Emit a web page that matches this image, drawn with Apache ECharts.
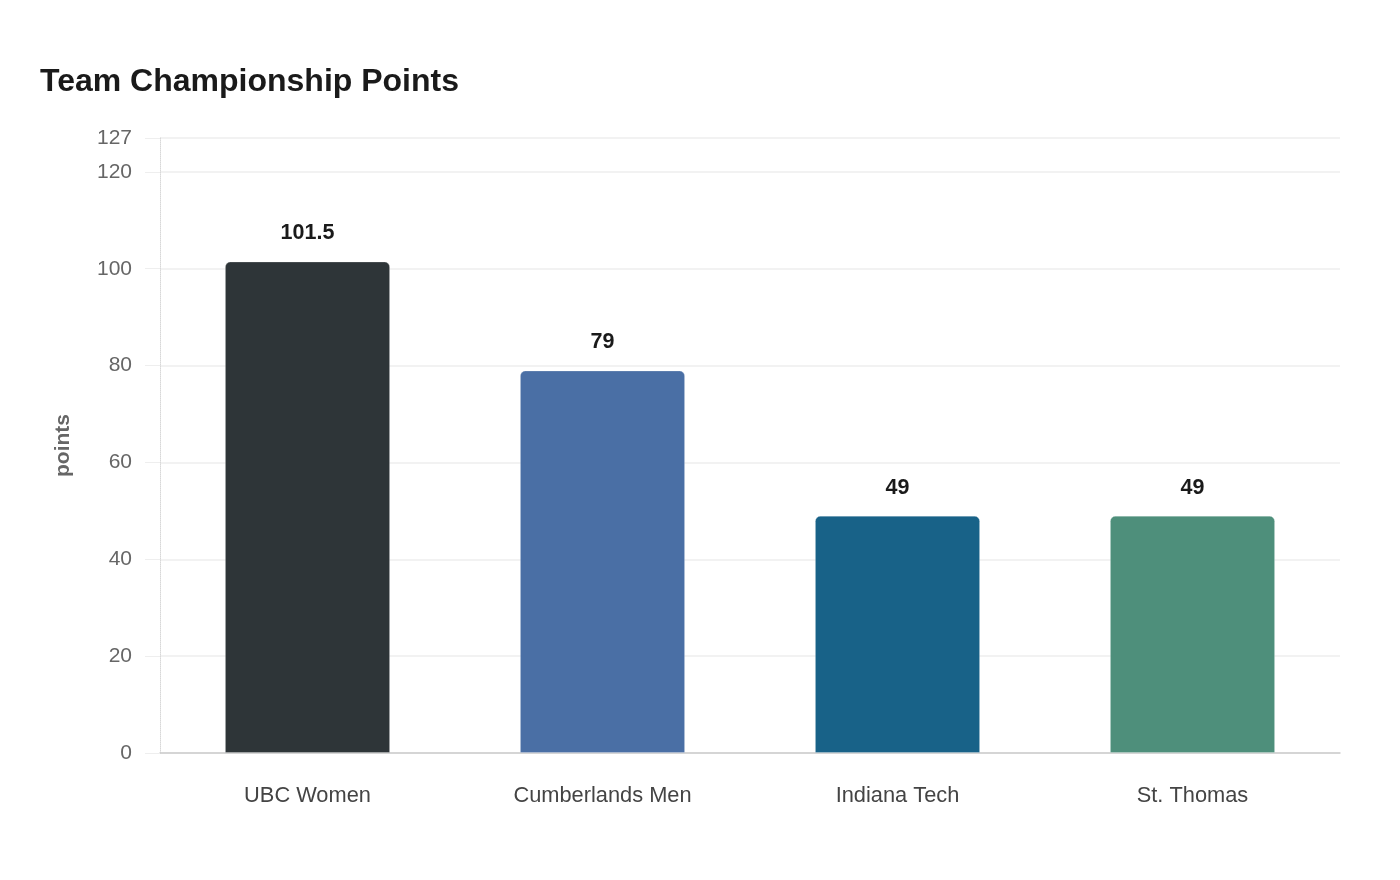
<!DOCTYPE html>
<html lang="en">
<head>
    <meta charset="UTF-8">
    <title>Team Championship Points</title>
    <script src="https://cdn.jsdelivr.net/npm/echarts@6/dist/echarts.min.js"></script>
    <style>
        html, body { margin: 0; padding: 0; background: #fff; }
        #chart { width: 1400px; height: 880px; }
    </style>
</head>
<body>
    <div id="chart"></div>
<script>
// 数据
const teams = ['UBC Women', 'Cumberlands Men', 'Indiana Tech', 'St. Thomas'];
const points = [101.5, 79, 49, 49];
const barColors = ['#2e3538', '#4a6fa5', '#186288', '#4e8f7b'];

const chart = echarts.init(document.getElementById('chart'));
const font = '"Liberation Sans", Arial, sans-serif';

chart.setOption({
  animation: false,
  title: {
    text: 'Team Championship Points',
    left: 35,
    top: 61,
    textStyle: { fontFamily: font, fontSize: 32, fontWeight: 'bold', color: '#1a1a1a' }
  },
  grid: { left: 160, right: 60, top: 138, bottom: 127, containLabel: false },
  xAxis: {
    type: 'category',
    data: teams,
    axisLine: { lineStyle: { color: '#cccccc', width: 1.5 } },
    axisTick: { show: false },
    axisLabel: { fontFamily: font, fontSize: 21.8, color: '#444', margin: 32 }
  },
  yAxis: {
    type: 'value',
    min: 0,
    max: 127,
    interval: 20,
    name: 'points',
    nameLocation: 'middle',
    nameGap: 86,
    nameTextStyle: { fontFamily: font, fontSize: 21, fontWeight: 'bold', color: '#666' },
    axisLine: { show: true, lineStyle: { color: '#d8d8d8', type: 'dotted' } },
    axisTick: { show: true, length: 15, lineStyle: { color: '#eeeeee' } },
    axisLabel: { fontFamily: font, fontSize: 21, color: '#666', margin: 28, padding: [2, 0, 0, 0] },
    splitLine: { lineStyle: { color: '#eeeeee', width: 1.5 } }
  },
  series: [{
    type: 'bar',
    barWidth: '56%',
    data: points.map((v, i) => ({
      value: v,
      itemStyle: { color: barColors[i] }
    })),
    itemStyle: { borderRadius: [5, 5, 0, 0], borderColor: 'rgba(255,255,255,0.25)', borderWidth: 1 },
    label: {
      show: true,
      position: 'top',
      distance: 17,
      fontFamily: font,
      fontSize: 21.5,
      fontWeight: 'bold',
      color: '#1a1a1a'
    }
  }]
});
</script>
</body>
</html>
